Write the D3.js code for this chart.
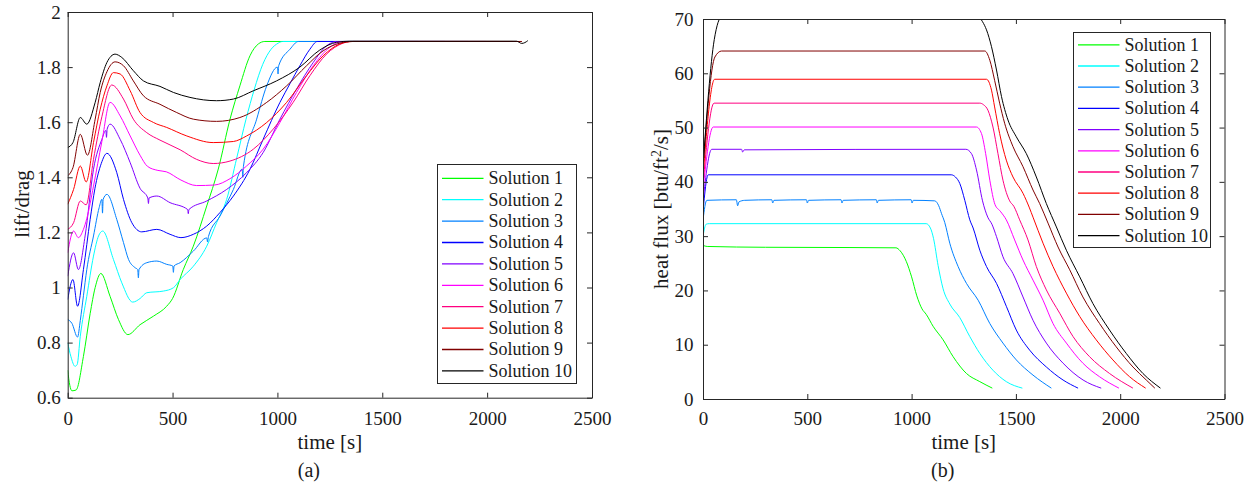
<!DOCTYPE html>
<html>
<head>
<meta charset="utf-8">
<script src="https://cdn.jsdelivr.net/npm/d3@7"></script>
<style>
body { margin: 0; background: #fff; }
svg text { font-family: "Liberation Serif", "Times New Roman", serif; fill: #1a1a1a; }
</style>
</head>
<body>
<svg class="canvas"></svg>
<script>
// lift/drag vs time, [t (s), L/D]
const lift1 = [[0,0.70],[10,0.645],[20,0.625],[40,0.628],[75,0.75],[107,0.905],[131,1.00],[158,1.051],[202,0.968],[242,0.884],[287,0.829],[345,0.865],[409,0.896],[472,0.932],[500,0.96],[551,1.065],[599,1.15],[663,1.296],[718,1.43],[774,1.611],[821,1.732],[869,1.841],[909,1.884],[940,1.893],[1387,1.893]];
const lift2 = [[0,0.799],[15,0.75],[35,0.714],[45,0.72],[60,0.823],[91,0.968],[123,1.114],[147,1.187],[167,1.205],[218,1.102],[258,1.017],[310,0.947],[345,0.96],[377,0.981],[456,0.987],[504,0.999],[536,1.029],[599,1.077],[663,1.15],[710,1.235],[758,1.32],[806,1.47],[850,1.61],[890,1.72],[930,1.81],[970,1.865],[1004,1.887],[1025,1.893],[1531,1.893]];
const lift3 = [[0,0.884],[20,0.87],[47,0.82],[60,0.88],[75,0.97],[91,1.065],[123,1.187],[150,1.29],[163,1.32],[166,1.27],[169,1.32],[187,1.338],[234,1.247],[266,1.163],[290,1.102],[321,1.072],[334,1.065],[337,1.035],[340,1.065],[377,1.09],[425,1.096],[472,1.084],[501,1.078],[504,1.055],[507,1.078],[536,1.09],[599,1.132],[663,1.18],[667,1.165],[671,1.185],[726,1.259],[790,1.356],[832,1.43],[835,1.40],[838,1.44],[901,1.611],[949,1.732],[1000,1.80],[1003,1.775],[1006,1.805],[1060,1.865],[1100,1.893],[1670,1.893]];
const lift4 = [[0,0.956],[25,1.029],[47,0.932],[75,1.065],[107,1.247],[130,1.36],[160,1.45],[187,1.487],[234,1.417],[266,1.32],[306,1.235],[353,1.202],[425,1.211],[488,1.193],[540,1.181],[599,1.193],[663,1.223],[726,1.272],[790,1.332],[869,1.429],[932,1.538],[1012,1.672],[1060,1.74],[1107,1.805],[1155,1.865],[1190,1.893],[1798,1.893]];
const lift5 = [[0,1.041],[28,1.126],[51,1.065],[83,1.187],[123,1.429],[163,1.538],[182,1.57],[185,1.545],[188,1.575],[202,1.593],[250,1.538],[298,1.453],[345,1.36],[382,1.325],[385,1.305],[388,1.325],[425,1.332],[488,1.308],[572,1.283],[575,1.268],[578,1.283],[663,1.314],[758,1.356],[853,1.417],[932,1.49],[1012,1.611],[1091,1.72],[1171,1.817],[1234,1.877],[1282,1.893],[1909,1.893]];
const lift6 = [[0,1.126],[28,1.205],[51,1.181],[75,1.211],[91,1.25],[123,1.368],[163,1.53],[202,1.672],[250,1.623],[298,1.55],[345,1.48],[380,1.44],[430,1.425],[470,1.42],[540,1.39],[615,1.37],[700,1.372],[774,1.395],[853,1.441],[932,1.502],[1012,1.599],[1091,1.708],[1171,1.805],[1250,1.872],[1313,1.893],[1994,1.893]];
const lift7 = [[0,1.211],[28,1.235],[60,1.314],[88,1.30],[123,1.465],[163,1.62],[210,1.735],[266,1.684],[313,1.611],[377,1.562],[440,1.535],[536,1.50],[615,1.465],[694,1.45],[774,1.459],[885,1.502],[980,1.575],[1075,1.672],[1155,1.769],[1234,1.847],[1313,1.887],[1350,1.893],[2061,1.893]];
const lift8 = [[0,1.302],[28,1.356],[60,1.441],[88,1.383],[123,1.526],[155,1.647],[187,1.732],[218,1.78],[250,1.775],[298,1.714],[345,1.635],[409,1.599],[472,1.581],[568,1.55],[694,1.526],[790,1.53],[853,1.55],[949,1.599],[1044,1.672],[1139,1.769],[1218,1.841],[1298,1.884],[1361,1.893],[2122,1.893]];
const lift9 = [[0,1.405],[25,1.435],[60,1.556],[94,1.48],[131,1.611],[155,1.708],[187,1.783],[226,1.819],[266,1.805],[313,1.75],[361,1.696],[440,1.665],[520,1.635],[599,1.611],[710,1.603],[821,1.617],[949,1.672],[1044,1.732],[1139,1.805],[1218,1.859],[1298,1.887],[1361,1.893],[2166,1.893]];
const lift10 = [[0,1.508],[25,1.526],[60,1.617],[91,1.593],[131,1.672],[155,1.744],[187,1.817],[226,1.847],[258,1.835],[313,1.787],[361,1.75],[440,1.73],[504,1.708],[583,1.69],[710,1.678],[790,1.684],[885,1.714],[996,1.75],[1107,1.80],[1202,1.862],[1282,1.89],[1345,1.894],[2140,1.894],[2165,1.886],[2180,1.889],[2194,1.896]];

// heat flux vs time, [t (s), btu/ft^2/s]
const heat1 = [[0,28.3],[20,28.1],[300,27.95],[700,27.9],[925,27.85],[945,27.3],[975,25.3],[1000,22.5],[1025,19.0],[1050,16.6],[1070,15.6],[1103,13.4],[1151,10.9],[1199,7.8],[1263,4.7],[1327,3.2],[1387,2.0]];
const heat2 = [[0,30.0],[15,32.2],[30,32.3],[1070,32.3],[1090,31.5],[1105,29.6],[1127,24.6],[1151,20.3],[1183,17.5],[1231,15.0],[1279,11.5],[1327,8.4],[1390,5.3],[1454,3.2],[1531,2.0]];
const heat3 = [[0,33.0],[18,36.6],[160,36.7],[166,35.6],[172,36.3],[200,36.6],[330,36.7],[334,36.1],[340,36.6],[496,36.7],[500,36.1],[506,36.6],[662,36.7],[666,36.1],[672,36.6],[831,36.7],[835,36.1],[841,36.6],[998,36.7],[1002,36.1],[1008,36.6],[1111,36.5],[1130,35.6],[1143,34.2],[1159,32.5],[1183,28.7],[1223,24.4],[1263,21.3],[1319,18.2],[1375,13.9],[1438,10.3],[1502,7.2],[1582,4.4],[1670,2.0]];
const heat4 = [[0,34.5],[25,41.3],[1190,41.3],[1210,40.9],[1231,39.7],[1255,36.6],[1279,33.0],[1295,31.5],[1327,27.4],[1359,24.4],[1407,21.3],[1455,17.0],[1502,12.7],[1566,9.0],[1646,5.9],[1726,3.5],[1798,2.0]];
const heat5 = [[0,36.5],[42,46.0],[185,46.0],[190,45.5],[198,45.9],[1260,46.0],[1287,45.2],[1311,42.2],[1340,36.5],[1365,33.5],[1385,32.2],[1407,29.9],[1438,26.2],[1486,23.1],[1534,18.8],[1582,14.5],[1646,10.3],[1726,6.6],[1822,3.5],[1909,2.0]];
const heat6 = [[0,38.5],[49,50.1],[1311,50.1],[1335,48.9],[1355,45.2],[1375,40.3],[1400,35.8],[1425,34.6],[1454,33.0],[1494,29.3],[1534,25.6],[1582,21.9],[1630,18.2],[1678,13.9],[1742,10.3],[1821,6.6],[1901,4.1],[1994,2.0]];
const heat7 = [[0,39.5],[53,54.5],[1327,54.5],[1345,54.2],[1366,53.2],[1390,50.1],[1414,45.2],[1438,40.3],[1470,36.5],[1490,35.5],[1518,33.0],[1558,29.3],[1598,24.4],[1646,20.1],[1710,15.8],[1774,11.5],[1853,7.8],[1949,4.7],[2061,2.0]];
const heat8 = [[0,41.0],[56,58.9],[1359,58.9],[1383,56.9],[1398,53.8],[1422,48.9],[1454,44.0],[1486,40.9],[1534,37.9],[1565,35.2],[1582,33.5],[1630,28.7],[1678,24.4],[1742,19.5],[1806,15.2],[1885,10.9],[1965,7.2],[2045,4.1],[2122,2.0]];
const heat9 = [[0,42.5],[57,63.0],[89,64.1],[1351,64.1],[1375,62.4],[1398,58.7],[1422,54.5],[1446,50.8],[1486,46.5],[1534,42.8],[1582,38.5],[1614,36.0],[1654,32.4],[1702,28.0],[1758,23.8],[1821,18.8],[1901,13.9],[1981,9.6],[2061,5.9],[2125,3.5],[2166,2.0]];
const heat10 = [[0,43.0],[54,66.2],[90,70.4],[1320,70.4],[1340,69.5],[1359,68.0],[1383,64.9],[1407,60.6],[1431,55.7],[1462,51.4],[1502,48.3],[1550,45.2],[1598,40.9],[1646,36.0],[1694,31.7],[1742,27.4],[1806,22.5],[1869,17.6],[1949,12.7],[2029,8.4],[2109,4.7],[2193,2.0]];

const solutionNames = ['Solution 1','Solution 2','Solution 3','Solution 4','Solution 5','Solution 6','Solution 7','Solution 8','Solution 9','Solution 10'];
const timeTicks = [0, 500, 1000, 1500, 2000, 2500];
const liftTicks = [0.6, 0.8, 1, 1.2, 1.4, 1.6, 1.8, 2];
const heatTicks = [0, 10, 20, 30, 40, 50, 60, 70];

const colors = ['#00ff00','#00ffff','#0080ff','#0000ff','#8000ff','#ff00ff','#ff0080','#ff0000','#800000','#000000'];
const axisColor = '#262626';

const w = 1257;
const h = 493;

const svg = d3.select('svg.canvas')
    .attr('width', w)
    .attr('height', h);

let drawPanel = (p) => {
    const xScale = d3.scaleLinear().domain([0, 2500]).range([p.left, p.right]);
    const yScale = d3.scaleLinear().domain(p.yDomain).range([p.bottom, p.top]);

    svg.append('clipPath')
        .attr('id', p.id + '-clip')
        .append('rect')
        .attr('x', p.left)
        .attr('y', p.top)
        .attr('width', p.right - p.left)
        .attr('height', p.bottom - p.top);

    const line = d3.line()
        .x(d => xScale(d[0]))
        .y(d => yScale(d[1]))
        .curve(d3.curveMonotoneX);

    svg.append('g')
        .attr('clip-path', 'url(#' + p.id + '-clip)')
        .selectAll('path')
        .data(p.series)
        .enter()
        .append('path')
        .attr('d', line)
        .attr('fill', 'none')
        .attr('stroke', (d, i) => colors[i])
        .attr('stroke-width', 1);

    // axes, ticks pointing inward on all four sides
    const fmt = d => String(d);
    const xAxis = d3.axisBottom(xScale).tickValues(timeTicks).tickSizeInner(-5).tickSizeOuter(0).tickPadding(p.xPad).tickFormat(fmt);
    const yAxis = d3.axisLeft(yScale).tickValues(p.yTicks).tickSizeInner(-5).tickSizeOuter(0).tickPadding(p.yPad).tickFormat(fmt);
    const xTop = d3.axisTop(xScale).tickValues(timeTicks).tickSizeInner(-5).tickSizeOuter(0).tickFormat('');
    const yRight = d3.axisRight(yScale).tickValues(p.yTicks).tickSizeInner(-5).tickSizeOuter(0).tickFormat('');

    const axes = [
        [xAxis, 'translate(0,' + p.bottom + ')'],
        [yAxis, 'translate(' + p.left + ',0)'],
        [xTop, 'translate(0,' + p.top + ')'],
        [yRight, 'translate(' + p.right + ',0)']
    ];
    axes.forEach(a => {
        const g = svg.append('g').attr('transform', a[1]).call(a[0]);
        g.selectAll('path, line').attr('stroke', axisColor).attr('stroke-width', 1);
        g.selectAll('text').style('font-size', '19px').attr('fill', '#1a1a1a');
    });

    // axis labels
    svg.append('text')
        .attr('x', (p.left + p.right) / 2)
        .attr('y', 449)
        .attr('text-anchor', 'middle')
        .style('font-size', '21px')
        .text('time [s]');

    svg.append('text')
        .attr('x', (p.left + p.right) / 2 - 21)
        .attr('y', 477)
        .attr('text-anchor', 'middle')
        .style('font-size', '20px')
        .text(p.tag);

    const yl = svg.append('text')
        .attr('transform', 'translate(' + p.yLabelX + ',' + p.yLabelY + ') rotate(-90)')
        .attr('text-anchor', 'middle')
        .style('font-size', '21px');
    p.yLabel.forEach(part => {
        const t = yl.append('tspan').text(part.text);
        if (part.sup) {
            t.attr('baseline-shift', 'super').style('font-size', '14px');
        }
    });

    // legend
    const lg = svg.append('g').attr('transform', 'translate(' + p.legend.x + ',' + p.legend.y + ')');
    lg.append('rect')
        .attr('width', p.legend.w)
        .attr('height', p.legend.h)
        .attr('fill', '#fff')
        .attr('stroke', axisColor)
        .attr('stroke-width', 1);
    const rows = lg.selectAll('g.row')
        .data(solutionNames)
        .enter()
        .append('g')
        .attr('class', 'row')
        .attr('transform', (d, i) => 'translate(0,' + (p.legend.first + i * p.legend.step) + ')');
    rows.append('line')
        .attr('x1', 4.5)
        .attr('x2', 46)
        .attr('stroke', (d, i) => colors[i])
        .attr('stroke-width', 1.3);
    rows.append('text')
        .attr('x', 51)
        .attr('dy', '0.33em')
        .style('font-size', '18px')
        .text(d => d);
};

drawPanel({
    id: 'ld',
    left: 67.7, right: 592, top: 12, bottom: 397.7,
    yDomain: [0.6, 2], yTicks: liftTicks,
    xPad: 14, yPad: 7,
    series: [lift1, lift2, lift3, lift4, lift5, lift6, lift7, lift8, lift9, lift10],
    tag: '(a)',
    yLabel: [{ text: 'lift/drag' }],
    yLabelX: 28.5, yLabelY: 204,
    legend: { x: 437.5, y: 164.5, w: 139, h: 219, first: 13.8, step: 21.4 }
});

drawPanel({
    id: 'hf',
    left: 703, right: 1224.5, top: 19, bottom: 399,
    yDomain: [0, 70], yTicks: heatTicks,
    xPad: 12.5, yPad: 9.5,
    series: [heat1, heat2, heat3, heat4, heat5, heat6, heat7, heat8, heat9, heat10],
    tag: '(b)',
    yLabel: [{ text: 'heat flux [btu/ft' }, { text: '2', sup: true }, { text: '/s]' }],
    yLabelX: 667.5, yLabelY: 209,
    legend: { x: 1073.5, y: 32.5, w: 137, h: 215, first: 12.3, step: 21.2 }
});
</script>
</body>
</html>
